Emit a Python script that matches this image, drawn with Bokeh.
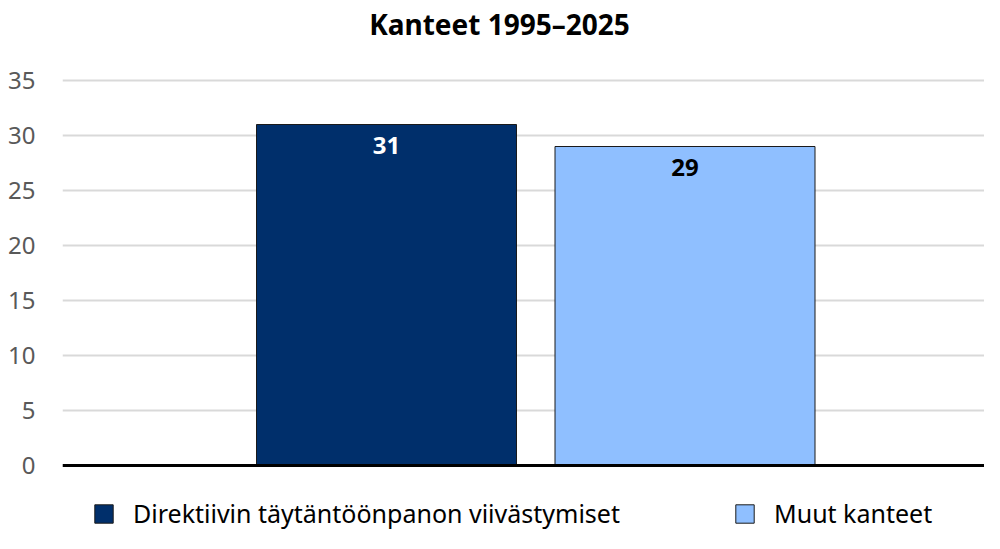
from bokeh.plotting import figure
from bokeh.models import (ColumnDataSource, Range1d, LabelSet, Legend,
                          LegendItem, Span, Label)
from bokeh.core.properties import value
from bokeh.embed import file_html
from bokeh.resources import INLINE

# ---- data ----
title_text = "Kanteet 1995\u20132025"
categories = ["Direktiivin täytäntöönpanon viivästymiset", "Muut kanteet"]
values = [31, 29]
y_ticks = [0, 5, 10, 15, 20, 25, 30, 35]

# ---- styles ----
bar_colors = ["#002f6b", "#8fbfff"]
label_colors = ["white", "black"]
FONT = "Noto Sans"

positions = list(range(len(categories)))
source = ColumnDataSource(dict(
    x=positions,
    cat=categories,
    val=values,
    color=bar_colors,
    lbl=[str(v) for v in values],
    lcolor=label_colors,
))

# ---- layout (pixels) ----
W, H = 984, 533
FL = 62            # frame left
PX_X = 298.5       # pixels per category step
X0 = 386           # pixel centre of first bar
Y0, Y35 = 465, 80  # pixel rows of 0 and 35
PX_Y = (Y0 - Y35) / 35.0

p = figure(width=W, height=H, output_backend="svg", toolbar_location=None,
           x_range=Range1d(-(X0 - FL) / PX_X, (W - X0) / PX_X),
           y_range=Range1d(-(H - Y0) / PX_Y, 35 + Y35 / PX_Y),
           min_border_left=FL, min_border_right=0, min_border_top=0,
           min_border_bottom=0)
p.outline_line_color = None
p.background_fill_color = "white"
p.border_fill_color = "white"

r = p.vbar(x="x", top="val", width=260 / PX_X, bottom=0, source=source,
           fill_color="color", line_color="#1a1a1a", line_width=1)

p.xaxis.visible = False
p.xgrid.grid_line_color = None
p.ygrid.grid_line_color = "#d9d9d9"
p.ygrid.grid_line_width = 2

yax = p.yaxis[0]
yax.ticker = y_ticks
yax.axis_line_color = None
yax.major_tick_line_color = None
yax.minor_tick_line_color = None
yax.major_tick_out = 0
yax.major_tick_in = 0
yax.major_label_standoff = 27
yax.major_label_text_font = FONT
yax.major_label_text_font_size = "24px"
yax.major_label_text_color = "#595959"

p.add_layout(Span(location=0, dimension="width", line_color="black", line_width=3))

labels = LabelSet(x="x", y="val", text="lbl", source=source,
                  text_align="center", text_baseline="top", y_offset=-12,
                  text_font=value(FONT), text_font_style="bold",
                  text_font_size="24px", text_color="lcolor")
p.add_layout(labels)

title = Label(x=499 - FL, y=H - 23, x_units="screen", y_units="screen",
              text=title_text, text_align="center", text_baseline="middle",
              text_font=FONT, text_font_style="bold", text_font_size="28px",
              text_color="black")
p.add_layout(title)

legend = Legend(items=[LegendItem(label=c, renderers=[r], index=i)
                       for i, c in enumerate(categories)],
                location=(92 - FL, 3), orientation="horizontal",
                padding=0, margin=0, spacing=0, border_line_color=None,
                background_fill_alpha=0, glyph_width=23, glyph_height=23,
                label_height=23, label_width=733 - 92 - 23 - 18,
                label_standoff=18, label_text_font=FONT,
                label_text_font_size="25px", label_text_color="black")
p.add_layout(legend)

open("out.html", "w").write(file_html(p, INLINE))
